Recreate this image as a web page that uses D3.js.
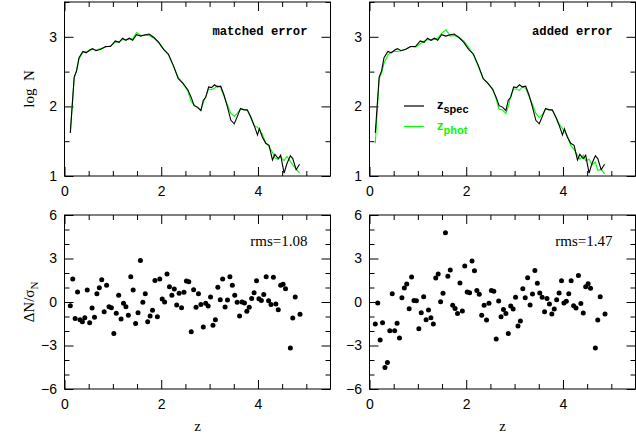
<!DOCTYPE html>
<html>
<head>
<meta charset="utf-8">
<script src="https://cdn.jsdelivr.net/npm/d3@7"></script>
<style>
  body { margin: 0; background: #fff; }
  svg { display: block; }
  .tick text { font-family: "Liberation Sans", Arial, sans-serif; font-size: 14px; fill: #000; }
  .tick line { stroke: #000; }
</style>
</head>
<body>
<script>
// redshift grid of the N(z) curves
const zGrid = [0.12, 0.2, 0.25, 0.3, 0.38, 0.45, 0.52, 0.58, 0.65, 0.75, 0.85, 0.95, 1.05, 1.13, 1.2,
    1.27, 1.34, 1.41, 1.49, 1.58, 1.67, 1.75, 1.85, 1.95, 2.05, 2.15, 2.25, 2.35, 2.45, 2.55, 2.62,
    2.68, 2.75, 2.82, 2.87, 2.92, 2.98, 3.04, 3.1, 3.16, 3.23, 3.3, 3.37, 3.44, 3.51, 3.57, 3.64,
    3.71, 3.78, 3.85, 3.92, 3.99, 4.03, 4.09, 4.16, 4.23, 4.3, 4.35, 4.42, 4.47, 4.54, 4.6, 4.67,
    4.72, 4.79, 4.86]

// log N, spectroscopic
const specN = [1.62, 2.42, 2.51, 2.70, 2.79, 2.77, 2.81, 2.83, 2.80, 2.82, 2.86, 2.86, 2.94, 2.92, 2.98,
    2.95, 2.98, 2.95, 3.03, 3.01, 3.03, 3.04, 2.99, 2.92, 2.82, 2.75, 2.59, 2.40, 2.33, 2.24, 2.13,
    2.01, 1.99, 1.94, 2.09, 2.13, 2.28, 2.27, 2.31, 2.28, 2.29, 2.16, 1.99, 1.80, 1.75, 1.85, 1.97,
    1.95, 1.95, 1.85, 1.73, 1.59, 1.68, 1.56, 1.47, 1.44, 1.23, 1.31, 1.25, 1.30, 1.04, 1.18, 1.29,
    1.25, 1.09, 1.17]

// log N, photometric (matched error)
const photMatched = [1.62, 2.40, 2.52, 2.68, 2.78, 2.79, 2.80, 2.82, 2.81, 2.83, 2.85, 2.87, 2.92, 2.93, 2.96,
    2.96, 2.97, 2.97, 3.06, 3.02, 3.02, 3.02, 2.98, 2.91, 2.82, 2.74, 2.58, 2.42, 2.33, 2.22, 2.07,
    2.02, 1.98, 1.95, 2.05, 2.14, 2.25, 2.24, 2.26, 2.30, 2.27, 2.14, 2.02, 1.90, 1.86, 1.90, 1.96,
    1.96, 1.94, 1.84, 1.72, 1.70, 1.66, 1.60, 1.48, 1.42, 1.34, 1.26, 1.24, 1.27, 1.22, 1.28, 1.21,
    1.16, 1.10, 1.04]

// log N, photometric (added error)
const photAdded = [1.47, 2.40, 2.48, 2.62, 2.74, 2.78, 2.79, 2.79, 2.80, 2.82, 2.86, 2.85, 2.90, 2.94, 2.96,
    2.95, 2.96, 2.98, 3.05, 3.10, 3.01, 3.02, 2.99, 2.94, 2.85, 2.74, 2.57, 2.40, 2.33, 2.25, 2.10,
    1.96, 1.95, 1.90, 2.00, 2.15, 2.25, 2.25, 2.23, 2.28, 2.26, 2.14, 2.03, 1.90, 1.84, 1.88, 1.96,
    1.96, 1.94, 1.85, 1.75, 1.68, 1.64, 1.58, 1.44, 1.38, 1.30, 1.24, 1.30, 1.22, 1.24, 1.16, 1.20,
    1.08, 1.10, 1.03]

// bin centres of the residual plots
const zBins = [0.12, 0.17, 0.22, 0.27, 0.32, 0.37, 0.42, 0.47, 0.52, 0.57, 0.62, 0.67, 0.72, 0.77, 0.82, 0.87, 0.92, 0.97,
    1.02, 1.07, 1.12, 1.17, 1.22, 1.27, 1.32, 1.37, 1.42, 1.47, 1.52, 1.57, 1.62, 1.67, 1.72, 1.77, 1.82, 1.87, 1.92, 1.97,
    2.02, 2.07, 2.12, 2.17, 2.22, 2.27, 2.32, 2.37, 2.42, 2.47, 2.52, 2.57, 2.62, 2.67, 2.72, 2.77, 2.82, 2.87, 2.92, 2.97,
    3.02, 3.07, 3.12, 3.17, 3.22, 3.27, 3.32, 3.37, 3.42, 3.47, 3.52, 3.57, 3.62, 3.67, 3.72, 3.77, 3.82, 3.87, 3.92, 3.97,
    4.02, 4.07, 4.12, 4.17, 4.22, 4.27, 4.32, 4.37, 4.42, 4.47, 4.52, 4.57, 4.67, 4.72, 4.77, 4.87]

// dN / sigma_N
const residMatched = [-0.25, 1.59, -1.13, 0.69, -1.22, -1.36, -1.08, 0.83, -1.43, -0.41, -1.06, 0.57, 0.99, 1.54, -0.67, 1.15, -0.32, -0.39,
    -2.18, -0.78, 0.46, -1.17, -0.09, -0.32, -0.92, 1.75, 0.83, -1.49, -0.74, 2.87, -0.02, 0.57, -1.36, -0.97, -0.57, 1.49, -1.01, 1.59,
    0.21, 0.0, 1.93, 1.06, 0.46, 0.90, -0.21, 0.60, -0.39, 0.67, 1.45, 1.40, -2.05, 0.85, -0.37, 0.57, -0.18, -1.72, -0.09, -0.28,
    0.34, -1.61, -1.22, 1.01, 0.16, 1.59, -0.34, 0.14, 1.75, 1.15, 0.46, -0.02, -0.97, 0.0, -0.07, -0.64, -0.37, 0.25, 0.64, 1.47,
    0.23, 0.11, 0.51, 1.75, 0.09, -0.18, 1.70, -0.14, -0.53, 1.15, 1.22, 0.92, -3.17, -1.10, 0.34, -0.85]

const residAdded = [-1.52, -0.07, -2.62, -1.43, -4.51, -4.18, -1.98, 0.57, -1.98, -1.47, -2.48, 0.30, 0.97, 1.24, -0.46, 1.72, 0.11, 0.09,
    -1.84, -0.74, 0.37, -1.22, -0.55, -1.08, -1.52, 1.66, 1.93, 0.02, 0.60, 4.78, 1.77, 2.21, -0.23, -0.44, -0.80, 1.31, -0.62, 2.48,
    0.69, 0.64, 2.83, 2.16, 0.80, 0.53, -0.92, -0.23, -1.24, -0.09, 0.80, 0.74, -2.55, 0.07, -1.01, -0.51, -0.80, -2.18, -0.28, -0.48,
    0.32, -1.66, -1.31, 0.92, 0.30, 1.68, -0.21, 0.55, 2.18, 1.29, 0.62, 0.32, -0.67, 0.25, -0.14, -0.83, -0.48, 0.16, 0.62, 1.47,
    -0.07, 0.05, 0.57, 1.47, -0.25, -0.41, 1.82, -0.11, -0.76, 1.06, 1.26, 0.94, -3.17, -1.24, 0.37, -0.83]

const rmsLabels = ['rms=1.08', 'rms=1.47']
const errLabels = ['matched error', 'added error']

const GREEN = '#00ff00'
const svg = d3.select('body').append('svg').attr('width', 636).attr('height', 439)

const cols = [[64.5, 330.5], [369.5, 635.5]]
const rows = { top: [176, 2], bottom: [389, 215] }

const addTicks = (g, axisFn, scale, values, size, transform, labels) => {
    const ax = axisFn(scale).tickValues(values).tickSize(size).tickSizeOuter(0)
    ax.tickFormat(labels ? d3.format('d') : '')
    const a = g.append('g').attr('transform', transform).call(ax)
    a.select('.domain').remove()
    return a
}

const drawFrame = (x, y, xMajor, xMinor, yMajor, yMinor) => {
    const g = svg.append('g')
    const [xa, xb] = x.range()
    const [ya, yb] = y.range()
    // minor ticks on all four sides
    addTicks(g, d3.axisBottom, x, xMinor, -5, `translate(0,${ya})`)
    addTicks(g, d3.axisTop, x, xMinor, -5, `translate(0,${yb})`)
    addTicks(g, d3.axisLeft, y, yMinor, -5, `translate(${xa},0)`)
    addTicks(g, d3.axisRight, y, yMinor, -5, `translate(${xb},0)`)
    // major ticks, labelled bottom and left
    addTicks(g, d3.axisBottom, x, xMajor, -9, `translate(0,${ya})`, true).call(a => a.selectAll('text').attr('y', 10))
    addTicks(g, d3.axisTop, x, xMajor, -9, `translate(0,${yb})`)
    addTicks(g, d3.axisLeft, y, yMajor, -9, `translate(${xa},0)`, true).call(a => a.selectAll('text').attr('x', -7.5))
    addTicks(g, d3.axisRight, y, yMajor, -9, `translate(${xb},0)`)
    g.append('rect')
        .attr('x', xa).attr('y', yb)
        .attr('width', xb - xa).attr('height', ya - yb)
        .attr('fill', 'none').attr('stroke', '#000').attr('stroke-width', 1)
}

const xMajor = [0, 2, 4]
const xMinor = [0.5, 1, 1.5, 2.5, 3, 3.5, 4.5, 5]

// top row: log N
const greens = [photMatched, photAdded]
cols.forEach((c, i) => {
    const x = d3.scaleLinear().domain([0, 5.5]).range(c)
    const y = d3.scaleLinear().domain([1, 3.5]).range(rows.top)
    drawFrame(x, y, xMajor, xMinor, [1, 2, 3], [1.5, 2.5, 3.5])

    const line = d3.line().x((d, k) => x(zGrid[k])).y(d => y(d))
    svg.append('path').datum(greens[i])
        .attr('d', line).attr('fill', 'none').attr('stroke', GREEN).attr('stroke-width', 1.1)
    svg.append('path').datum(specN)
        .attr('d', line).attr('fill', 'none').attr('stroke', '#000').attr('stroke-width', 1.1)

    svg.append('text')
        .attr('x', c[1] - 23).attr('y', 34.5)
        .attr('text-anchor', 'end')
        .style('font-family', '"Liberation Mono", "DejaVu Sans Mono", monospace')
        .style('font-weight', 'bold').style('font-size', '12.2px')
        .style('white-space', 'pre')
        .text(errLabels[i])
})

// legend in the right top panel
const legend = svg.append('g')
const legItems = [{ sub: 'spec', color: '#000', y: 106 }, { sub: 'phot', color: GREEN, y: 126.5 }]
legItems.forEach(d => {
    legend.append('line')
        .attr('x1', 404).attr('x2', 424).attr('y1', d.y).attr('y2', d.y)
        .attr('stroke', d.color).attr('stroke-width', 1.2)
    const t = legend.append('text')
        .attr('x', 437).attr('y', d.y + 3)
        .attr('fill', d.color)
        .style('font-family', '"Liberation Sans", Arial, sans-serif')
        .style('font-weight', 'bold')
    t.append('tspan').style('font-size', '13px').text('z')
    t.append('tspan').attr('dy', 4).style('font-size', '11px').text(d.sub)
})

// bottom row: residuals
const resids = [residMatched, residAdded]
cols.forEach((c, i) => {
    const x = d3.scaleLinear().domain([0, 5.5]).range(c)
    const y = d3.scaleLinear().domain([-6, 6]).range(rows.bottom)
    drawFrame(x, y, xMajor, xMinor, [-6, -3, 0, 3, 6], [-5, -4, -2, -1, 1, 2, 4, 5])

    svg.append('g').selectAll('circle')
        .data(resids[i])
        .join('circle')
        .attr('cx', (d, k) => x(zBins[k]))
        .attr('cy', d => y(d))
        .attr('r', 2.5)
        .attr('fill', '#000')

    svg.append('text')
        .attr('x', c[1] - 23).attr('y', 245.5)
        .attr('text-anchor', 'end')
        .style('font-family', '"Liberation Serif", "Times New Roman", serif')
        .style('font-size', '15px')
        .text(rmsLabels[i])

    svg.append('text')
        .attr('x', (c[0] + c[1]) / 2).attr('y', 431)
        .attr('text-anchor', 'middle')
        .style('font-family', '"Liberation Serif", "Times New Roman", serif')
        .style('font-size', '15px')
        .text('z')
})

// y titles
const serif = '"Liberation Serif", "Times New Roman", serif'
svg.append('text')
    .attr('transform', 'translate(34,89) rotate(-90)')
    .attr('text-anchor', 'middle')
    .style('font-family', serif).style('font-size', '15px')
    .style('white-space', 'pre')
    .text('log  N')

const dn = svg.append('text')
    .attr('transform', 'translate(34,302) rotate(-90)')
    .attr('text-anchor', 'middle')
    .style('font-family', serif).style('font-size', '15px')
dn.append('tspan').text('ΔN/σ')
dn.append('tspan').attr('dy', 4).style('font-size', '11px').text('N')
</script>
</body>
</html>
